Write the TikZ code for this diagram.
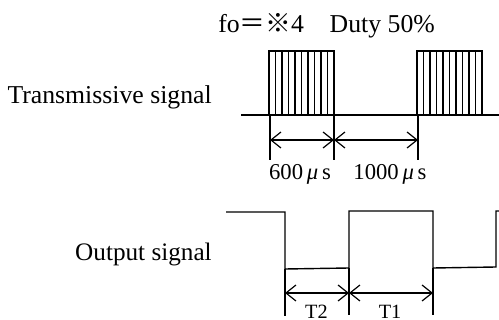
\documentclass[tikz,border=0pt]{standalone}
\usepackage{fontspec}
\setmainfont{Liberation Serif}
\newfontfamily\cjk{Noto Sans CJK JP}
\usetikzlibrary{arrows.meta}
\tikzset{
  sig/.style={draw=black,line width=1.05pt},
  thin sig/.style={draw=black,line width=0.9pt},
  tick/.style={draw=black,line width=1.05pt},
  dim/.style={draw=black,line width=0.8pt,{Straight Barb[length=7.5pt,width=12pt,line width=0.9pt]}-{Straight Barb[length=7.5pt,width=12pt,line width=0.9pt]}},
  lab/.style={inner sep=0pt,font=\fontsize{19.3pt}{21pt}\selectfont,text=black},
  small/.style={inner sep=0pt,font=\fontsize{17pt}{19pt}\selectfont,text=black},
  tlab/.style={inner sep=0pt,font=\fontsize{15.2pt}{17pt}\selectfont,text=black},
}
\begin{document}
\begin{tikzpicture}[x=0.75pt,y=-0.75pt]
\useasboundingbox (0,0) rectangle (499,320);
\node[lab,anchor=base west] (title) at (218,33) {fo{\cjk ＝※}4\hspace{1em}Duty 50\%};
\node[lab,anchor=base east] (ts) at (212,104) {Transmissive signal};
\node[lab,anchor=base east,font=\fontsize{18.9pt}{21pt}\selectfont] (os) at (212,260) {Output signal};
% transmissive signal
\coordinate (b0) at (241,115); \coordinate (b1) at (499,115);
\draw[sig] (b0) -- (b1);
\foreach \s/\n in {269/a,417/b}{
  \draw[sig] (\s,115) |- (\s+65,51) -- (\s+65,115);
  \foreach \i in {1,...,9}{ \draw[thin sig] (\s+\i*6.5,51) -- (\s+\i*6.5,115); }
}
\coordinate (t1a) at (270,115); \coordinate (t1b) at (270,160);
\coordinate (t2a) at (334,115); \coordinate (t2b) at (334,160);
\coordinate (t3a) at (418,115); \coordinate (t3b) at (418,160);
\draw[tick] (t1a) -- (t1b); \draw[tick] (t2a) -- (t2b); \draw[tick] (t3a) -- (t3b);
\coordinate (d1) at (270,140); \coordinate (d2) at (334,140); \coordinate (d3) at (418,140);
\draw[dim] (d1) -- (d2); \draw[dim] (d2) -- (d3);
\node[small,anchor=base] (l600) at (300,180) {600\,{\itshape μ}\,s};
\node[small,anchor=base] (l1000) at (390,180) {1000\,{\itshape μ}\,s};
% output signal
\draw[sig] (226,212) -- (285,212) -- (285,269) -- (349,268) -- (349,211) -- (433,211) -- (433,268) -- (496,267) -- (496,211) -- (499,211);
\coordinate (u1a) at (285,269); \coordinate (u1b) at (285,316);
\coordinate (u2a) at (349,268); \coordinate (u2b) at (349,315);
\coordinate (u3a) at (433,268); \coordinate (u3b) at (433,315);
\draw[tick] (u1a) -- (u1b); \draw[tick] (u2a) -- (u2b); \draw[tick] (u3a) -- (u3b);
\coordinate (e1) at (285,293); \coordinate (e2) at (349,293); \coordinate (e3) at (433,293);
\draw[dim] (e1) -- (e2); \draw[dim] (e2) -- (e3);
\node[tlab,anchor=base] (lt2) at (316.5,318.5) {T2};
\node[tlab,anchor=base] (lt1) at (390,318.5) {T1};
\end{tikzpicture}
\end{document}
